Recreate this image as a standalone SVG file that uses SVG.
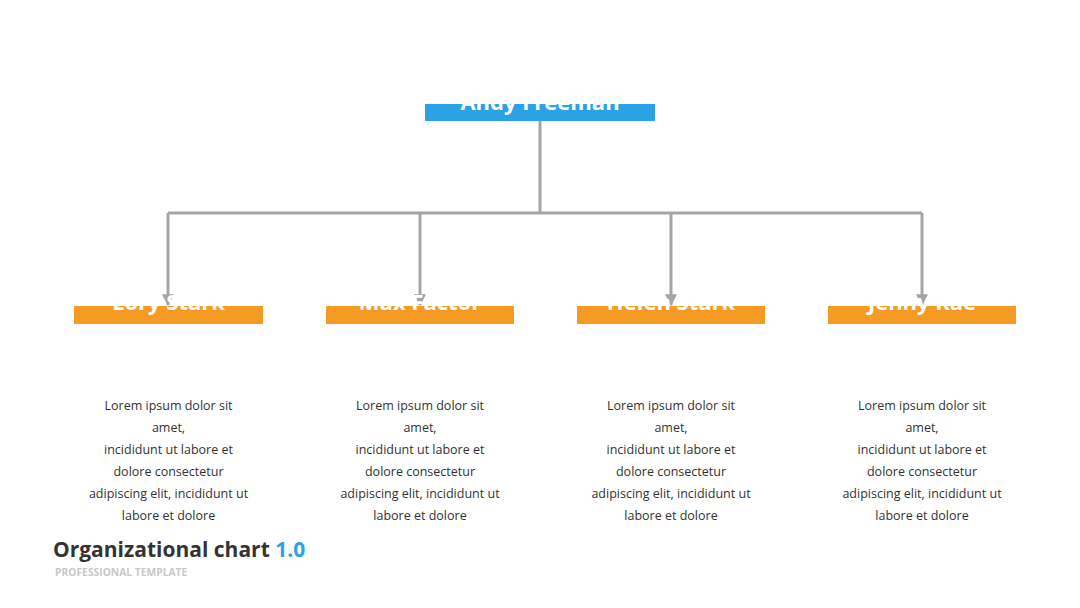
<svg xmlns="http://www.w3.org/2000/svg" width="1080" height="608" viewBox="0 0 1080 608">
<defs>
<marker id="arr" viewBox="0 0 10 10" refX="9" refY="5" markerWidth="4.5" markerHeight="4" orient="auto" markerUnits="strokeWidth">
<path d="M0,0 L10,5 L0,10 z" fill="#a3a6a9"/>
</marker>
</defs>
<style>
.name{font-family:"Open Sans","Liberation Sans",sans-serif;font-weight:bold;font-size:22px;fill:#ffffff;text-anchor:middle}
.body{font-family:"Open Sans","Liberation Sans",sans-serif;font-size:12.5px;fill:#333333;text-anchor:middle}
.con{fill:none;stroke:#a3a6a9;stroke-width:3}
.blue{fill:#29a3e3}
.orange{fill:#f59a23}
</style>
<rect width="1080" height="608" fill="#ffffff"/>
<g id="connectors">
<path class="con" d="M540,121 V213 M168,213 H922"/>
<path class="con" d="M168,213 V305" marker-end="url(#arr)"/>
<path class="con" d="M420,213 V305" marker-end="url(#arr)"/>
<path class="con" d="M671,213 V305" marker-end="url(#arr)"/>
<path class="con" d="M922,213 V305" marker-end="url(#arr)"/>
</g>
<g id="andy">
<rect class="blue" x="425" y="104" width="230" height="17"/>
<text class="name" x="540" y="110">Andy Freeman</text>
</g>
<g id="lory">
<rect class="orange" x="74" y="306" width="189" height="18"/>
<text class="name" x="168.5" y="310">Lory Stark</text>
<text class="body" x="168.5" y="410"><tspan x="168.5">Lorem ipsum dolor sit</tspan><tspan x="168.5" dy="22">amet,</tspan><tspan x="168.5" dy="22">incididunt ut labore et</tspan><tspan x="168.5" dy="22">dolore consectetur</tspan><tspan x="168.5" dy="22">adipiscing elit, incididunt ut</tspan><tspan x="168.5" dy="22">labore et dolore</tspan></text>
</g>
<g id="max">
<rect class="orange" x="326" y="306" width="188" height="18"/>
<text class="name" x="420" y="310">Max Factor</text>
<text class="body" x="420" y="410"><tspan x="420">Lorem ipsum dolor sit</tspan><tspan x="420" dy="22">amet,</tspan><tspan x="420" dy="22">incididunt ut labore et</tspan><tspan x="420" dy="22">dolore consectetur</tspan><tspan x="420" dy="22">adipiscing elit, incididunt ut</tspan><tspan x="420" dy="22">labore et dolore</tspan></text>
</g>
<g id="helen">
<rect class="orange" x="577" y="306" width="188" height="18"/>
<text class="name" x="671" y="310">Helen Stark</text>
<text class="body" x="671" y="410"><tspan x="671">Lorem ipsum dolor sit</tspan><tspan x="671" dy="22">amet,</tspan><tspan x="671" dy="22">incididunt ut labore et</tspan><tspan x="671" dy="22">dolore consectetur</tspan><tspan x="671" dy="22">adipiscing elit, incididunt ut</tspan><tspan x="671" dy="22">labore et dolore</tspan></text>
</g>
<g id="jenny">
<rect class="orange" x="828" y="306" width="188" height="18"/>
<text class="name" x="922" y="310">Jenny Rae</text>
<text class="body" x="922" y="410"><tspan x="922">Lorem ipsum dolor sit</tspan><tspan x="922" dy="22">amet,</tspan><tspan x="922" dy="22">incididunt ut labore et</tspan><tspan x="922" dy="22">dolore consectetur</tspan><tspan x="922" dy="22">adipiscing elit, incididunt ut</tspan><tspan x="922" dy="22">labore et dolore</tspan></text>
</g>
<g id="title">
<text x="53" y="557" font-family="'Open Sans','Liberation Sans',sans-serif" font-weight="bold" font-size="21" fill="#333333">Organizational chart <tspan fill="#29a3e3">1.0</tspan></text>
<text x="55" y="576" font-family="'Open Sans','Liberation Sans',sans-serif" font-weight="bold" font-size="10.3" fill="#c8c8c8">PROFESSIONAL TEMPLATE</text>
</g>
</svg>
